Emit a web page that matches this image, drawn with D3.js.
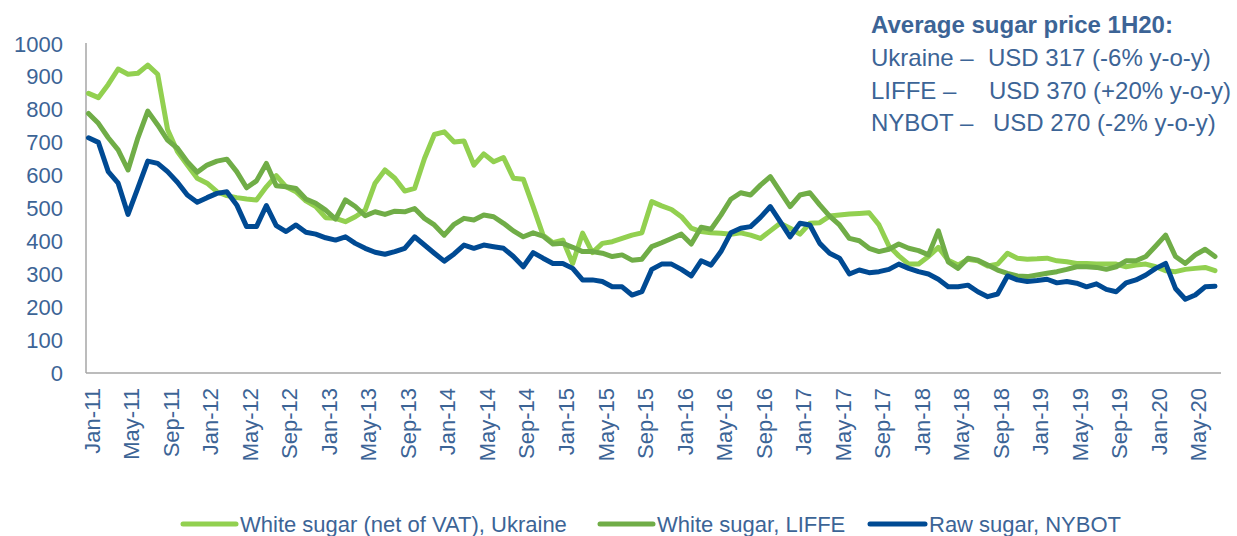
<!DOCTYPE html>
<html>
<head>
<meta charset="utf-8">
<script src="https://cdn.jsdelivr.net/npm/d3@7"></script>
<style>
  html, body { margin: 0; padding: 0; background: #fff; }
  svg { display: block; }
  text { font-family: "Liberation Sans", Arial, sans-serif; fill: #3C6496; }
</style>
</head>
<body>
<svg id="chart" width="1237" height="536"></svg>
<script>
// ---- Data (USD/t), monthly Jan-11 .. Jul-20 ----
const categories = d3.timeMonth.range(new Date(2011, 0, 1), new Date(2020, 7, 1)).map(d3.timeFormat("%b-%y"));

const ukraine = [850, 837, 877, 924, 908, 911, 936, 908, 740, 673, 632, 592, 577, 551, 539, 533, 529, 526, 566, 600,
  566, 551, 523, 506, 472, 470, 460, 475, 495, 577, 617, 592, 553, 561, 652, 725, 733, 702, 705, 632,
  666, 642, 655, 592, 589, 506, 419, 396, 404, 333, 425, 366, 394, 399, 409, 419, 426, 521, 508, 497,
  475, 440, 430, 426, 425, 422, 426, 419, 409, 432, 455, 440, 422, 455, 457, 477, 480, 483, 485, 487,
  450, 386, 356, 331, 331, 354, 382, 343, 328, 346, 341, 325, 331, 364, 349, 346, 347, 349, 341, 338,
  333, 333, 331, 331, 331, 323, 328, 331, 323, 311, 308, 315, 318, 321, 311];

const liffe = [789, 759, 715, 678, 617, 715, 796, 754, 708, 683, 642, 610, 632, 644, 650, 612, 563, 584, 637, 569,
  566, 561, 529, 516, 495, 468, 526, 506, 478, 490, 482, 492, 490, 500, 470, 450, 419, 452, 470, 465,
  480, 475, 455, 432, 414, 426, 416, 392, 394, 382, 369, 369, 364, 354, 359, 343, 346, 384, 396, 409,
  422, 392, 443, 437, 480, 528, 548, 541, 571, 597, 551, 506, 541, 548, 511, 477, 450, 409, 402, 379,
  369, 376, 392, 379, 372, 359, 432, 338, 318, 349, 343, 328, 313, 303, 295, 293, 298, 303, 308, 315,
  323, 323, 321, 315, 323, 341, 341, 354, 386, 419, 354, 333, 359, 376, 354];

const nybot = [715, 701, 612, 577, 482, 563, 644, 637, 612, 580, 541, 519, 533, 546, 551, 511, 445, 445, 509, 448,
  430, 450, 428, 422, 411, 404, 414, 394, 379, 367, 361, 369, 379, 414, 389, 364, 340, 362, 389, 379,
  389, 384, 379, 354, 323, 366, 349, 333, 333, 318, 283, 283, 278, 262, 262, 237, 247, 315, 331, 331,
  315, 295, 341, 328, 369, 426, 440, 445, 473, 506, 460, 414, 455, 450, 394, 364, 349, 301, 313, 305,
  308, 315, 331, 318, 308, 301, 285, 262, 262, 267, 247, 232, 240, 295, 283, 278, 281, 285, 274, 278,
  273, 262, 271, 254, 247, 274, 283, 298, 318, 333, 257, 224, 237, 262, 264];

const tickLabels = ["Jan-11", "May-11", "Sep-11", "Jan-12", "May-12", "Sep-12", "Jan-13", "May-13", "Sep-13",
  "Jan-14", "May-14", "Sep-14", "Jan-15", "May-15", "Sep-15", "Jan-16", "May-16", "Sep-16", "Jan-17",
  "May-17", "Sep-17", "Jan-18", "May-18", "Sep-18", "Jan-19", "May-19", "Sep-19", "Jan-20", "May-20"];
const yTicks = [0, 100, 200, 300, 400, 500, 600, 700, 800, 900, 1000];

const seriesNames = ["White sugar (net of VAT), Ukraine", "White sugar, LIFFE", "Raw sugar, NYBOT"];
const seriesColors = ["#92D050", "#70AD47", "#004A93"];
const seriesData = [ukraine, liffe, nybot];

const noteTitle = "Average sugar price 1H20:";
const noteRows = [["Ukraine \u2013", "USD 317 (-6% y-o-y)"], ["LIFFE \u2013", "USD 370 (+20% y-o-y)"], ["NYBOT \u2013", "USD 270 (-2% y-o-y)"]];

// ---- Layout ----
const svg = d3.select("#chart");
const axisLeftX = 86, axisRightX = 1221, axisBottomY = 373, axisTopY = 43;

const x = d3.scalePoint().domain(categories).range([88.5, 1215]);
const y = d3.scaleLinear().domain([0, 1000]).range([373, 44]);

// Y axis
const gy = svg.append("g").attr("transform", `translate(${axisLeftX},0)`)
  .call(d3.axisLeft(y).tickValues(yTicks).tickFormat(d3.format("d")).tickSize(0).tickPadding(23));
gy.select(".domain").remove();
gy.selectAll("text").attr("font-size", 22).style("font-family", "'Liberation Sans', Arial, sans-serif").attr("fill", "#3C6496");

// X axis
const gx = svg.append("g").attr("transform", `translate(0,${axisBottomY})`)
  .call(d3.axisBottom(x).tickValues(tickLabels).tickSize(0));
gx.select(".domain").remove();
gx.selectAll("text")
  .attr("font-size", 22)
  .style("font-family", "'Liberation Sans', Arial, sans-serif")
  .attr("fill", "#3C6496")
  .attr("text-anchor", "end")
  .attr("transform", "rotate(-90)")
  .attr("x", -15)
  .attr("y", 3)
  .attr("dy", "0.35em");

// Axis lines
svg.append("line").attr("x1", axisLeftX).attr("x2", axisLeftX).attr("y1", axisTopY).attr("y2", axisBottomY)
  .attr("stroke", "#A6A6A6").attr("stroke-width", 1.5);
svg.append("line").attr("x1", axisLeftX).attr("x2", axisRightX).attr("y1", axisBottomY).attr("y2", axisBottomY)
  .attr("stroke", "#A6A6A6").attr("stroke-width", 1.5);

// Lines
const line = d3.line().x((d, i) => x(categories[i])).y(d => y(d));
seriesData.forEach((s, k) => {
  svg.append("path").datum(s)
    .attr("d", line)
    .attr("fill", "none")
    .attr("stroke", seriesColors[k])
    .attr("stroke-width", 5)
    .attr("stroke-linejoin", "round")
    .attr("stroke-linecap", "round");
});

// Legend
const legendPos = [[183, 240], [600, 657], [870, 929]];
seriesNames.forEach((name, k) => {
  const [lx, tx] = legendPos[k];
  svg.append("line").attr("x1", lx).attr("x2", tx - 4).attr("y1", 524).attr("y2", 524)
    .attr("stroke", seriesColors[k]).attr("stroke-width", 5).attr("stroke-linecap", "round");
  svg.append("text").attr("x", tx).attr("y", 532).attr("font-size", 22).text(name);
});

// Annotation
svg.append("text").attr("x", 871).attr("y", 33).attr("font-size", 24).attr("font-weight", "bold").text(noteTitle);
const valueX = [988, 989, 993];
noteRows.forEach((r, k) => {
  const by = 66 + k * 32.5;
  svg.append("text").attr("x", 871).attr("y", by).attr("font-size", 24).text(r[0]);
  svg.append("text").attr("x", valueX[k]).attr("y", by).attr("font-size", 24).text(r[1]);
});
</script>
</body>
</html>
